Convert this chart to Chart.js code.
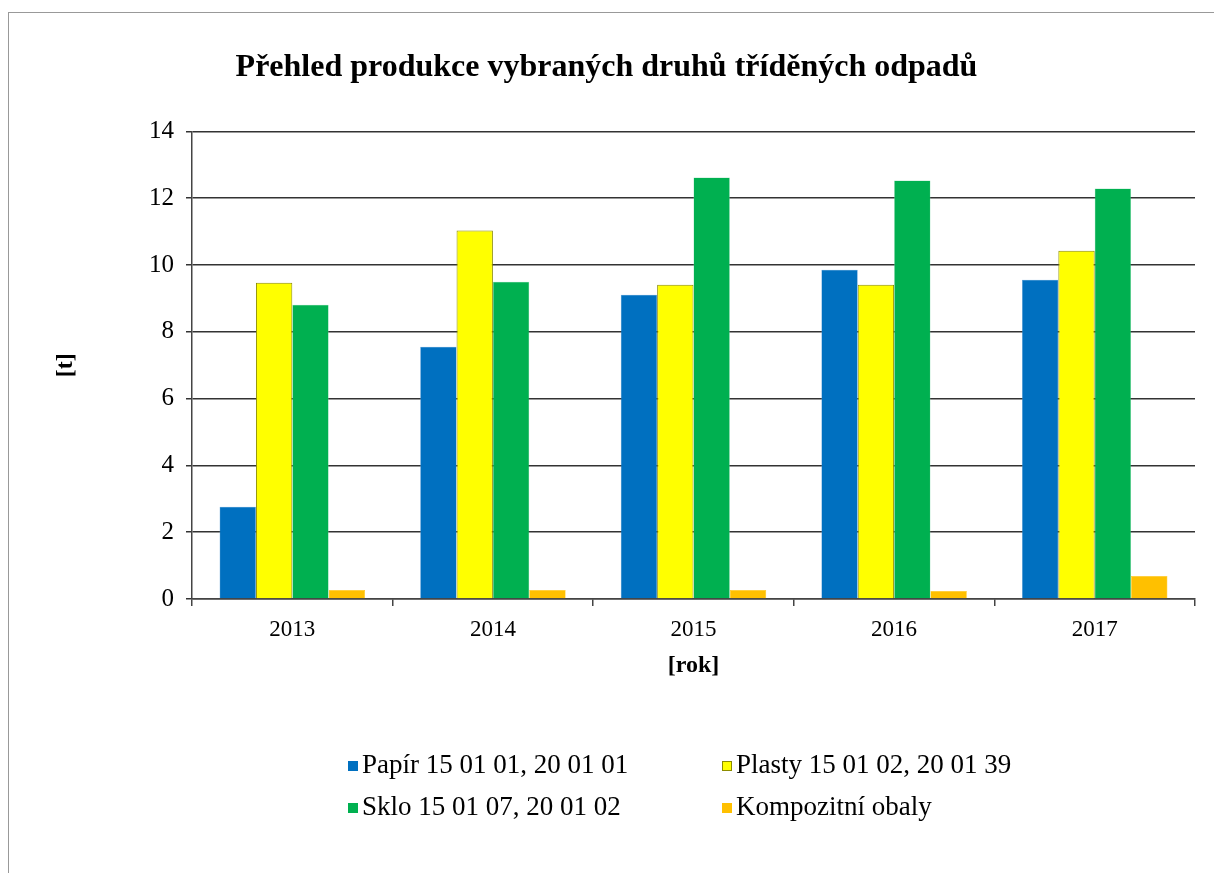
<!DOCTYPE html>
<html>
<head>
<meta charset="utf-8">
<script src="https://cdn.jsdelivr.net/npm/chart.js@4"></script>
<style>
  body { margin: 0; background: #fff; }
  #frame { position: absolute; left: 8px; top: 12px; width: 1210px; height: 870px;
           border-left: 1px solid #999; border-top: 1px solid #999; }
  #wrap { position: absolute; left: 0; top: 0; width: 1214px; height: 873px; }
  .legend { position: absolute; font-family: "Liberation Serif", serif; font-size: 27px; color: #000;
            white-space: nowrap; line-height: 22px; }
  .legend span.box { display: inline-block; width: 10px; height: 10px; margin-right: 4px; vertical-align: 2px; box-sizing: border-box; }
</style>
</head>
<body>
<div id="frame"></div>
<div id="wrap"><canvas id="defaultChart" width="1214" height="873"></canvas></div>
<div id="legend"></div>
<script>
// Chart data
const years = ["2013", "2014", "2015", "2016", "2017"];
const papir = [2.76, 7.55, 9.11, 9.86, 9.56];
const plasty = [9.47, 11.03, 9.41, 9.41, 10.43];
const sklo = [8.81, 9.50, 12.62, 12.53, 12.29];
const kompozit = [0.27, 0.27, 0.27, 0.24, 0.69];
const seriesNames = ["Papír 15 01 01, 20 01 01", "Plasty 15 01 02, 20 01 39", "Sklo 15 01 07, 20 01 02", "Kompozitní obaly"];
const barColors = ["#0070C0", "#FFFF00", "#00B050", "#FFC000"];
const borderColors = ["#5b9bd5", "#8c8c00", "#7fd8a6", "#FFC000"];

const serif = "'Liberation Serif', serif";
const values = [papir, plasty, sklo, kompozit];

const data = {
  labels: years,
  datasets: values.map((v, i) => ({
    label: seriesNames[i],
    data: v,
    backgroundColor: barColors[i],
    borderColor: borderColors[i],
    borderWidth: i == 1 ? 1 : 0.5,
    categoryPercentage: 0.725,
    barPercentage: 1
  }))
};

const config = {
  type: 'bar',
  data: data,
  options: {
    responsive: false,
    animation: false,
    layout: { padding: { left: 18, right: 19, top: 0, bottom: 192 } },
    plugins: {
      legend: { display: false },
      tooltip: { enabled: false },
      title: {
        display: true,
        text: "Přehled produkce vybraných druhů tříděných odpadů",
        font: { family: serif, size: 32, weight: 'bold' },
        color: '#000',
        padding: { top: 49, bottom: 44 }
      }
    },
    scales: {
      x: {
        grid: { offset: true, drawOnChartArea: false, color: '#444', lineWidth: 1.5, tickLength: 7 },
        border: { color: '#444', width: 1.5 },
        ticks: { color: '#000', font: { family: serif, size: 23 }, padding: 10 },
        title: { display: true, text: "[rok]", color: '#000', font: { family: serif, size: 24, weight: 'bold' }, padding: { top: 4, bottom: 1 } },
        afterFit: s => { s.height = 82; }
      },
      y: {
        min: 0, max: 14,
        ticks: { stepSize: 2, color: '#000', font: { family: serif, size: 25 }, padding: 12 },
        grid: { color: '#333', lineWidth: 1.5, tickLength: 6 },
        border: { color: '#444', width: 1.5 },
        title: { display: true, text: "[t]", color: '#000', font: { family: serif, size: 24, weight: 'bold' }, padding: { top: 33, bottom: 0 } },
        afterFit: s => { s.width = 174; }
      }
    }
  }
};

const odpadChart = new Chart(document.getElementById('defaultChart'), config);

// HTML legend in two columns
const legendPos = [[348, 753], [722, 753], [348, 795], [722, 795]];
const legendEl = document.getElementById('legend');
seriesNames.forEach((name, i) => {
  const d = document.createElement('div');
  d.className = 'legend';
  d.style.left = legendPos[i][0] + 'px';
  d.style.top = legendPos[i][1] + 'px';
  const b = document.createElement('span');
  b.className = 'box';
  b.style.background = barColors[i];
  if (i == 1) b.style.border = '1px solid #8c8c00';
  d.appendChild(b);
  d.appendChild(document.createTextNode(name));
  legendEl.appendChild(d);
});
</script>
</body>
</html>
